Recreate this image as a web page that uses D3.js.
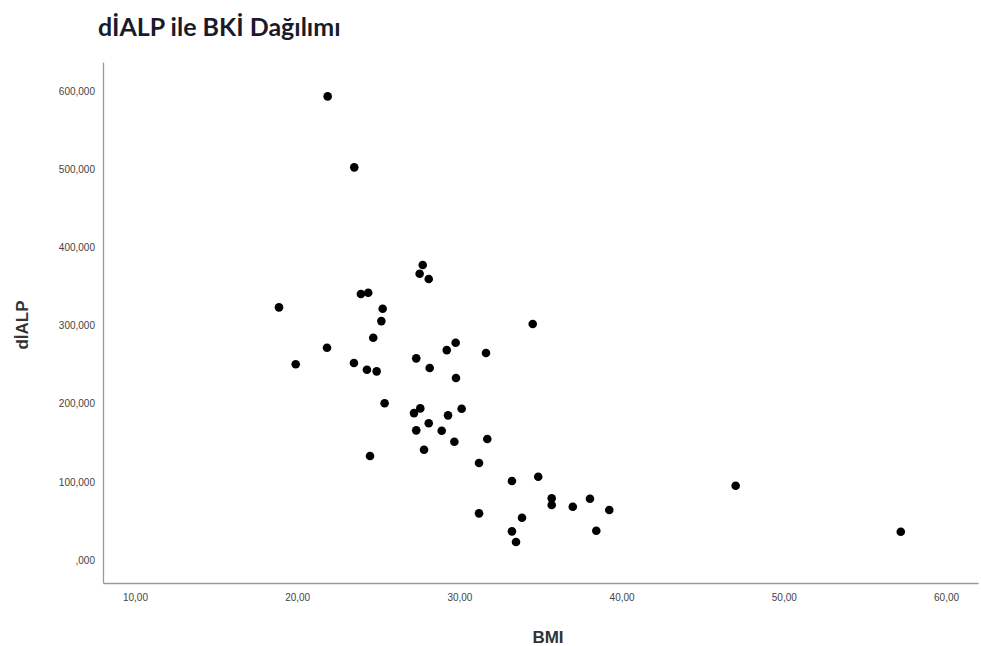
<!DOCTYPE html>
<html>
<head>
<meta charset="utf-8">
<script src="https://cdn.jsdelivr.net/npm/d3@7/dist/d3.min.js"></script>
<style>
  html, body { margin: 0; padding: 0; background: #fff; }
  svg { display: block; }
</style>
</head>
<body>
<svg id="chart" width="981" height="646"></svg>
<script>
const bmi = [21.88, 23.52, 27.74, 27.55, 28.11, 23.93, 24.38, 18.88, 25.27, 25.19,
             24.69, 21.84, 19.91, 23.50, 24.30, 24.90, 25.39, 27.34, 28.17, 29.22,
             29.77, 31.64, 29.79, 27.20, 27.59, 30.14, 29.30, 28.11, 27.34, 28.91,
             29.69, 31.72, 27.82, 24.49, 31.21, 34.52, 33.24, 34.86, 35.69, 35.69,
             36.99, 38.05, 39.24, 31.21, 33.86, 33.24, 33.49, 38.44, 47.03, 57.21];
const dialp = [593.2, 502.4, 377.4, 366.3, 359.5, 340.3, 342.0, 323.3, 321.5, 305.7,
               284.4, 271.6, 250.4, 252.0, 243.4, 241.4, 200.5, 258.0, 245.6, 268.6,
               278.0, 264.8, 232.8, 188.0, 194.0, 193.6, 185.1, 174.9, 165.9, 165.4,
               151.3, 154.8, 141.1, 133.0, 124.1, 301.9, 101.1, 106.6, 78.9, 70.4,
               68.2, 78.4, 64.0, 59.7, 54.1, 36.7, 23.0, 37.5, 95.0, 36.2];
const xTicks = [10, 20, 30, 40, 50, 60];
const xTickLabels = ["10,00", "20,00", "30,00", "40,00", "50,00", "60,00"];
const yTicks = [0, 100, 200, 300, 400, 500, 600];
const yTickLabels = [",000", "100,000", "200,000", "300,000", "400,000", "500,000", "600,000"];
const titleText = "dİALP ile BKİ Dağılımı";
const xTitle = "BMI";
const yTitle = "dİALP";

const svg = d3.select("#chart");
const mLeft = 103, mRight = 978, mTop = 62, mBottom = 583;

const x = d3.scaleLinear().domain([8.03, 61.97]).range([mLeft, mRight]);
const y = d3.scaleLinear().domain([-29.4, 637.2]).range([mBottom, mTop]);

// Title
svg.append("text")
  .attr("x", 98).attr("y", 36)
  .attr("font-family", "Lato, 'Open Sans', sans-serif")
  .attr("font-weight", "bold")
  .attr("font-size", 25)
  .attr("fill", "#1a1a2a")
  .text(titleText);

// X axis
const xAxis = d3.axisBottom(x)
  .tickValues(xTicks)
  .tickFormat((d, i) => xTickLabels[i])
  .tickSize(0).tickPadding(11);
const gx = svg.append("g").attr("transform", `translate(0,${mBottom})`).call(xAxis);
gx.select(".domain").attr("stroke", "#9a9a9a").attr("stroke-width", 1.3);
gx.selectAll("text").attr("font-family", "'Liberation Sans', Arial, sans-serif")
  .attr("font-size", 10).attr("fill", "#444");

// Y axis
const yAxis = d3.axisLeft(y)
  .tickValues(yTicks)
  .tickFormat((d, i) => yTickLabels[i])
  .tickSize(0).tickPadding(8);
const gy = svg.append("g").attr("transform", `translate(${mLeft},0)`).call(yAxis);
gy.select(".domain").attr("stroke", "#9a9a9a").attr("stroke-width", 1.3);
gy.selectAll("text").attr("font-family", "'Liberation Sans', Arial, sans-serif")
  .attr("font-size", 10).attr("fill", "#444");

// Axis titles
svg.append("text")
  .attr("x", 548).attr("y", 643)
  .attr("text-anchor", "middle")
  .attr("font-family", "'Liberation Sans', Arial, sans-serif")
  .attr("font-weight", "bold").attr("font-size", 17).attr("fill", "#333")
  .text(xTitle);

svg.append("text")
  .attr("transform", `translate(28,325) rotate(-90)`)
  .attr("text-anchor", "middle")
  .attr("font-family", "'Liberation Sans', Arial, sans-serif")
  .attr("font-weight", "bold").attr("font-size", 17).attr("fill", "#333")
  .text(yTitle);

// Points
svg.append("g").selectAll("circle")
  .data(bmi.map((b, i) => ({ b, v: dialp[i] })))
  .join("circle")
  .attr("cx", d => x(d.b))
  .attr("cy", d => y(d.v))
  .attr("r", 4.3)
  .attr("fill", "#000");
</script>
</body>
</html>
